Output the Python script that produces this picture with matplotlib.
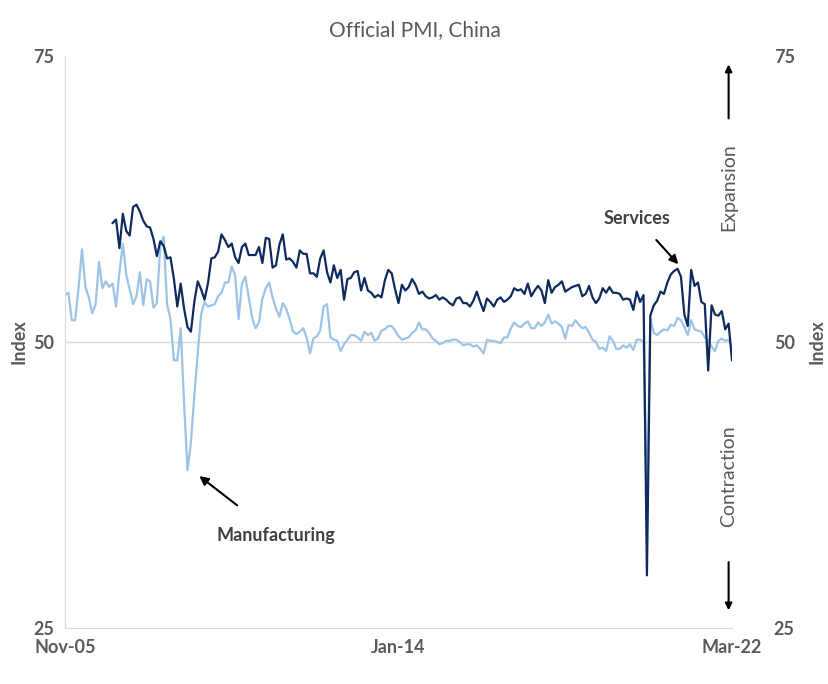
import matplotlib
matplotlib.use("Agg")
import matplotlib.pyplot as plt
import numpy as np

tick_labels = ["Nov-05", "Jan-14", "Mar-22"]
y_ticks = [25, 50, 75]

manufacturing = [54.1, 54.3,
 51.9, 51.9, 54.8, 58.1, 54.8, 53.9, 52.5, 53.3, 57.0, 54.7, 55.3, 54.8,
 55.1, 53.1, 56.1, 58.6, 55.9, 54.6, 53.3, 54.0, 56.1, 53.2, 55.5, 55.3,
 53.0, 53.4, 58.4, 59.2, 53.3, 52.0, 48.4, 48.4, 51.2, 44.6, 38.8, 41.2,
 45.3, 49.0, 52.4, 53.5, 53.1, 53.2, 53.3, 54.0, 54.3, 55.2, 55.2, 56.6,
 55.8, 52.0, 55.1, 55.7, 53.9, 52.1, 51.2, 51.7, 53.8, 54.7, 55.2, 53.9,
 52.9, 52.2, 53.4, 52.9, 52.0, 50.9, 50.7, 50.9, 51.2, 50.4, 49.0, 50.3,
 50.5, 51.0, 53.1, 53.3, 50.4, 50.2, 50.1, 49.2, 49.8, 50.2, 50.6, 50.6,
 50.4, 50.1, 50.9, 50.6, 50.8, 50.1, 50.3, 51.0, 51.1, 51.4, 51.4, 51.0,
 50.5, 50.2, 50.3, 50.4, 50.8, 51.0, 51.7, 51.1, 51.1, 50.8, 50.3, 50.1,
 49.8, 49.9, 50.1, 50.1, 50.2, 50.2, 50.0, 49.7, 49.8, 49.8, 49.6, 49.7,
 49.4, 49.0, 50.2, 50.1, 50.1, 50.0, 49.9, 50.4, 50.4, 51.2, 51.7, 51.4,
 51.3, 51.6, 51.8, 51.2, 51.2, 51.7, 51.4, 51.7, 52.4, 51.6, 51.8, 51.6,
 51.3, 50.3, 51.5, 51.4, 51.9, 51.5, 51.2, 51.3, 50.8, 50.2, 50.0, 49.4,
 49.5, 49.2, 50.5, 50.1, 49.4, 49.4, 49.7, 49.5, 49.8, 49.3, 50.2, 50.2,
 50.0, 35.7, 52.0, 50.8, 50.6, 50.9, 51.1, 51.0, 51.5, 51.4, 52.1, 51.9,
 51.3, 50.6, 51.9, 51.1, 51.0, 50.9, 50.4, 50.1, 49.6, 49.2, 50.1, 50.3,
 50.1, 50.2, 49.5]

services_start = 14  # Jan-07
services = [
 60.4, 60.7, 58.2, 61.2, 59.7, 59.3, 61.8, 62.0, 61.4, 60.6, 60.1, 60.0,
 59.0, 57.5, 58.8, 58.4, 57.3, 57.4, 55.5, 53.1, 55.1, 52.9, 51.3, 50.9,
 53.5, 55.3, 54.6, 53.7, 55.1, 57.3, 57.4, 57.9, 59.4, 58.9, 58.3, 58.6,
 57.4, 56.9, 58.3, 58.6, 57.6, 57.6, 57.6, 58.3, 56.9, 59.1, 59.0, 56.5,
 56.7, 58.5, 59.4, 57.2, 57.3, 57.0, 56.5, 58.0, 57.7, 57.7, 56.0, 56.0,
 55.7, 57.3, 58.0, 56.1, 55.2, 56.7, 55.6, 56.3, 53.7, 55.5, 55.6, 56.1,
 56.2, 54.5, 55.6, 54.5, 54.3, 53.9, 54.1, 53.9, 55.4, 56.3, 56.0, 54.6,
 53.4, 55.0, 54.5, 54.8, 55.5, 55.0, 54.2, 54.4, 54.0, 53.8, 53.9, 54.1,
 53.7, 53.9, 53.7, 53.4, 53.2, 53.8, 53.9, 53.4, 53.4, 53.1, 53.6, 54.4,
 53.5, 52.7, 53.8, 53.5, 53.1, 53.7, 53.9, 53.5, 53.7, 54.0, 54.7, 54.5,
 54.6, 54.2, 55.1, 54.0, 54.5, 54.9, 54.5, 53.4, 55.4, 54.3, 54.8, 55.0,
 55.3, 54.4, 54.6, 54.8, 54.9, 55.0, 54.0, 54.2, 54.9, 53.9, 53.4, 53.8,
 54.7, 54.3, 54.8, 54.3, 54.3, 54.2, 53.7, 53.8, 53.7, 52.8, 54.4, 53.5,
 54.1, 29.6, 52.3, 53.2, 53.6, 54.4, 54.2, 55.2, 55.9, 56.2, 56.4, 55.7,
 52.4, 51.4, 56.3, 54.9, 55.2, 53.5, 53.3, 47.5, 53.2, 52.4, 52.3, 52.7,
 51.1, 51.6, 48.4]

gray = "#595959"
dark = "#0e2a5e"
light = "#9dc3e6"
plt.rcParams["font.family"] = "Lato"

fig = plt.figure(figsize=(8.29, 6.84), dpi=100)
ax = fig.add_axes([0.0784, 0.0819, 0.8046, 0.8363])
xm = np.arange(len(manufacturing))
xs = np.arange(len(services)) + services_start
ax.axhline(50, color="#d9d9d9", lw=1, zorder=0)
ax.plot(xm, manufacturing, color=light, lw=1.6)
ax.plot(xs, services, color=dark, lw=1.6)
n = len(manufacturing) - 1
ax.set_xlim(0, n)
ax.set_ylim(25, 75)
ax.set_xticks([0, n / 2, n])
ax.set_xticklabels(tick_labels, fontsize=13, fontweight="bold", color=gray)
ax.set_yticks(y_ticks)
ax.set_yticklabels([str(v) for v in y_ticks], fontsize=13, fontweight="bold", color=gray)
for s in ["top", "right"]:
    ax.spines[s].set_visible(False)
for s in ["left", "bottom"]:
    ax.spines[s].set_color("#d9d9d9")
ax.tick_params(axis="both", length=0, pad=8)
ax.set_ylabel("Index", fontsize=13, fontweight="bold", color=gray)

ax2 = ax.twinx()
ax2.set_ylim(25, 75)
ax2.set_yticks(y_ticks)
ax2.set_yticklabels([str(v) for v in y_ticks], fontsize=13, fontweight="bold", color=gray)
for s in ax2.spines.values():
    s.set_visible(False)
ax2.tick_params(axis="y", length=0, pad=30)
ax2.set_ylabel("Index", fontsize=13, fontweight="bold", color=gray, labelpad=10)

fig.suptitle("Official PMI, China", y=0.97, fontsize=15, color=gray)

ax.annotate("Services", xy=(180.5, 56.7), xytext=(168, 60.8), fontsize=13,
            fontweight="bold", color="#404040", ha="center", va="center",
            arrowprops=dict(arrowstyle="-|>", color="black", lw=1.5, shrinkA=10, shrinkB=1))
ax.annotate("Manufacturing", xy=(38.5, 38.5), xytext=(62, 33.1), fontsize=13,
            fontweight="bold", color="#404040", ha="center", va="center",
            arrowprops=dict(arrowstyle="-|>", color="black", lw=1.5, shrinkA=22, shrinkB=3))
ax.text(n - 1, 63.5, "Expansion", rotation=90, fontsize=14, color=gray,
        ha="center", va="center")
ax.text(n - 1, 38.3, "Contraction", rotation=90, fontsize=14, color=gray,
        ha="center", va="center")
ax.annotate("", xy=(n - 1, 74.5), xytext=(n - 1, 69.3),
            arrowprops=dict(arrowstyle="-|>", color="black", lw=1.5), annotation_clip=False)
ax.annotate("", xy=(n - 1, 26.3), xytext=(n - 1, 31.0),
            arrowprops=dict(arrowstyle="-|>", color="black", lw=1.5), annotation_clip=False)

fig.savefig("out.png", dpi=100)
